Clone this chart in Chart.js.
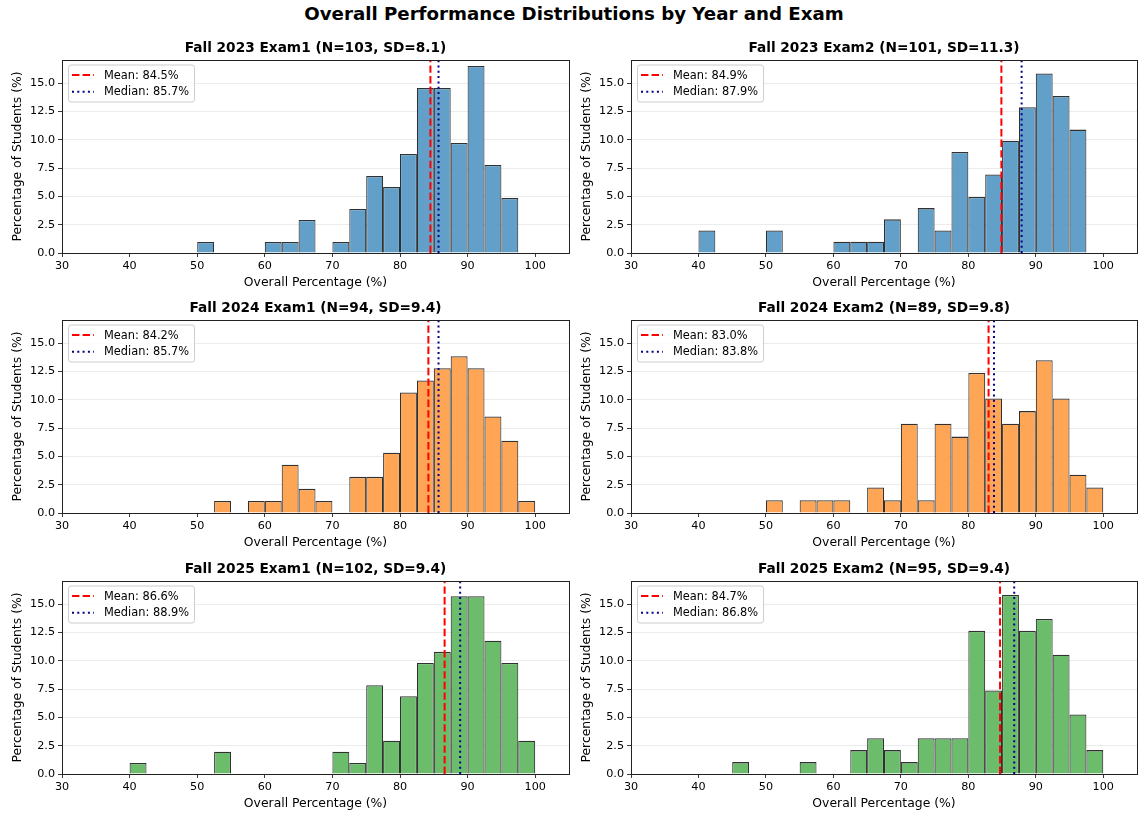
<!DOCTYPE html>
<html>
<head>
<meta charset="utf-8">
<script src="https://cdn.jsdelivr.net/npm/chart.js@4.4.0/dist/chart.umd.min.js"></script>
<style>
html,body{margin:0;padding:0;background:#fff;}
#wrap{position:relative;width:1139px;height:814px;overflow:hidden;background:#fff;}
#sup{position:absolute;left:0;top:4.7px;width:1148px;text-align:center;font-family:'DejaVu Sans';font-weight:bold;font-size:18.2px;line-height:18px;color:#000;white-space:nowrap;}
canvas{position:absolute;}
</style>
</head>
<body>
<div id="wrap">
  <div id="sup">Overall Performance Distributions by Year and Exam</div>
  <canvas id="c0" width="575" height="264" style="left:0px;top:28px"></canvas>
  <canvas id="c1" width="564" height="264" style="left:575px;top:28px"></canvas>
  <canvas id="c2" width="575" height="264" style="left:0px;top:288px"></canvas>
  <canvas id="c3" width="564" height="264" style="left:575px;top:288px"></canvas>
  <canvas id="c4" width="575" height="264" style="left:0px;top:549px"></canvas>
  <canvas id="c5" width="564" height="264" style="left:575px;top:549px"></canvas>
</div>
<script>
// ---------- DATA ----------
// Histogram bin centres (bins 2.5 points wide, from 40 to 100)
const binCenters = [41.25, 43.75, 46.25, 48.75, 51.25, 53.75, 56.25, 58.75, 61.25, 63.75, 66.25, 68.75,
                    71.25, 73.75, 76.25, 78.75, 81.25, 83.75, 86.25, 88.75, 91.25, 93.75, 96.25, 98.75];

// Percentage of students per bin
const fall2023Exam1 = [0, 0, 0, 0, 0.97, 0, 0, 0, 0.97, 0.97, 2.91, 0,
                       0.97, 3.88, 6.80, 5.83, 8.74, 14.56, 14.56, 9.71, 16.50, 7.77, 4.85, 0];
const fall2023Exam2 = [1.98, 0, 0, 0, 1.98, 0, 0, 0, 0.99, 0.99, 0.99, 2.97,
                       0, 3.96, 1.98, 8.91, 4.95, 6.93, 9.90, 12.87, 15.84, 13.86, 10.89, 0];
const fall2024Exam1 = [0, 0, 0, 0, 0, 1.06, 0, 1.06, 1.06, 4.26, 2.13, 1.06,
                       0, 3.19, 3.19, 5.32, 10.64, 11.70, 12.77, 13.83, 12.77, 8.51, 6.38, 1.06];
const fall2024Exam2 = [0, 0, 0, 0, 1.12, 0, 1.12, 1.12, 1.12, 0, 2.25, 1.12,
                       7.87, 1.12, 7.87, 6.74, 12.36, 10.11, 7.87, 8.99, 13.48, 10.11, 3.37, 2.25];
const fall2025Exam1 = [0.98, 0, 0, 0, 0, 1.96, 0, 0, 0, 0, 0, 0,
                       1.96, 0.98, 7.84, 2.94, 6.86, 9.80, 10.78, 15.69, 15.69, 11.76, 9.80, 2.94];
const fall2025Exam2 = [0, 0, 1.05, 0, 0, 0, 1.05, 0, 0, 2.11, 3.16, 2.11,
                       1.05, 3.16, 3.16, 3.16, 12.63, 7.37, 15.79, 12.63, 13.68, 10.53, 5.26, 2.11];

const panelNames = ['Fall 2023 Exam1', 'Fall 2023 Exam2', 'Fall 2024 Exam1', 'Fall 2024 Exam2', 'Fall 2025 Exam1', 'Fall 2025 Exam2'];
const nValues   = [103, 101, 94, 89, 102, 95];
const sdValues  = [8.1, 11.3, 9.4, 9.8, 9.4, 9.4];
const meanValues   = [84.5, 84.9, 84.2, 83.0, 86.6, 84.7];
const medianValues = [85.7, 87.9, 85.7, 83.8, 88.9, 86.8];
const xTickValues = [30, 40, 50, 60, 70, 80, 90, 100];
const yTickValues = [0, 2.5, 5, 7.5, 10, 12.5, 15];

// ---------- STYLE ----------
const seriesList = [fall2023Exam1, fall2023Exam2, fall2024Exam1, fall2024Exam2, fall2025Exam1, fall2025Exam2];
const faceColors = ['rgb(98,160,202)', 'rgb(98,160,202)', 'rgb(255,165,86)', 'rgb(255,165,86)', 'rgb(107,188,107)', 'rgb(107,188,107)'];
const X_MIN = 30, X_MAX = 105, Y_MIN = 0, Y_MAX = 17.03;
const TICK_FONT = 11.2, LABEL_FONT = 12.4, TITLE_FONT = 13.7, LEGEND_FONT = 11.4;

Chart.defaults.font.family = "'DejaVu Sans'";
Chart.defaults.font.size = TICK_FONT;
Chart.defaults.color = '#000';

const framePlugin = {
  id: 'frame',
  afterDatasetsDraw(chart) {
    const a = chart.chartArea, ctx = chart.ctx;
    ctx.save();
    ctx.strokeStyle = '#222';
    ctx.lineWidth = 1;
    const l = Math.round(a.left) + 0.5, t = Math.round(a.top) + 0.5;
    const r = Math.round(a.right) + 0.5, b = Math.round(a.bottom) + 0.5;
    ctx.strokeRect(l, t, r - l, b - t);
    ctx.restore();
  }
};

const boxLegendPlugin = {
  id: 'boxLegend',
  afterDraw(chart) {
    const ctx = chart.ctx, a = chart.chartArea;
    const items = chart.data.datasets.filter(d => d.type === 'line');
    ctx.save();
    ctx.font = LEGEND_FONT + "px 'DejaVu Sans'";
    const tw = Math.max(...items.map(d => ctx.measureText(d.label).width));
    const x = Math.round(a.left) + 6, y = Math.round(a.top) + 4.5;
    const w = 36 + tw + 5, h = 37;
    ctx.beginPath();
    ctx.roundRect(x + 0.5, y + 0.5, w, h, 2.5);
    ctx.fillStyle = 'rgba(255,255,255,0.8)';
    ctx.fill();
    ctx.strokeStyle = '#cccccc';
    ctx.lineWidth = 1;
    ctx.stroke();
    items.forEach((d, i) => {
      const cy = y + 10.5 + i * 16.7;
      ctx.beginPath();
      ctx.setLineDash(d.borderDash);
      ctx.strokeStyle = d.borderColor;
      ctx.lineWidth = 2;
      ctx.moveTo(x + 4, cy);
      ctx.lineTo(x + 26, cy);
      ctx.stroke();
      ctx.setLineDash([]);
      ctx.fillStyle = '#000';
      ctx.textBaseline = 'middle';
      ctx.textAlign = 'left';
      ctx.fillText(d.label, x + 36, cy + 0.7);
    });
    ctx.restore();
  }
};

function keepTicks(values) {
  return (axis) => {
    axis.ticks = values.map(v => ({ value: v }));
  };
}

function makeChart(idx) {
  const isLeft = idx % 2 === 0;
  const values = seriesList[idx];
  const mean = meanValues[idx], median = medianValues[idx];
  const canvas = document.getElementById('c' + idx);
  new Chart(canvas, {
    type: 'bar',
    data: {
      datasets: [
        {
          type: 'line',
          label: 'Mean: ' + mean.toFixed(1) + '%',
          data: [{ x: mean, y: Y_MIN }, { x: mean, y: Y_MAX }],
          borderColor: '#ff0000',
          borderWidth: 2,
          borderDash: [7.4, 3.2],
          pointRadius: 0,
          fill: false,
          order: 1
        },
        {
          type: 'line',
          label: 'Median: ' + median.toFixed(1) + '%',
          data: [{ x: median, y: Y_MIN }, { x: median, y: Y_MAX }],
          borderColor: '#00008b',
          borderWidth: 2,
          borderDash: [2, 3.3],
          pointRadius: 0,
          fill: false,
          order: 0
        },
        {
          type: 'bar',
          label: panelNames[idx],
          data: binCenters.map((c, i) => ({ x: c, y: values[i] })),
          backgroundColor: faceColors[idx],
          borderColor: 'rgba(20,20,20,0.88)',
          borderWidth: { top: 1.3, left: 1.1, right: 1.1, bottom: 0 },
          borderSkipped: 'start',
          barPercentage: 1,
          categoryPercentage: 1,
          inflateAmount: 0,
          order: 2
        }
      ]
    },
    options: {
      responsive: false,
      devicePixelRatio: 1,
      animation: false,
      events: [],
      layout: { padding: { left: 0, right: isLeft ? 6 : 2, top: 0, bottom: 0 } },
      plugins: {
        legend: { display: false },
        tooltip: { enabled: false },
        title: {
          display: true,
          fullSize: false,
          text: panelNames[idx] + ' (N=' + nValues[idx] + ', SD=' + sdValues[idx].toFixed(1) + ')',
          font: { size: TITLE_FONT, weight: 'bold', family: "'DejaVu Sans'" },
          color: '#000',
          padding: { top: 12.7, bottom: 2.86 }
        }
      },
      scales: {
        x: {
          type: 'linear',
          min: X_MIN,
          max: X_MAX,
          offset: false,
          afterBuildTicks: keepTicks(xTickValues),
          afterFit: (s) => { s.height = 39; },
          ticks: {
            autoSkip: false,
            maxRotation: 0,
            padding: 2.8,
            color: '#000',
            font: { size: TICK_FONT },
            callback: (v) => String(v)
          },
          grid: { offset: false, drawOnChartArea: false, drawTicks: true, tickLength: 4, tickColor: '#222', tickWidth: 0.9 },
          border: { display: false },
          title: {
            display: true,
            text: 'Overall Percentage (%)',
            font: { size: LABEL_FONT },
            color: '#000',
            padding: { top: 0, bottom: 2.26 }
          }
        },
        y: {
          type: 'linear',
          min: Y_MIN,
          max: Y_MAX,
          afterBuildTicks: keepTicks(yTickValues),
          afterFit: (s) => { s.width = isLeft ? 62 : 56; },
          ticks: {
            padding: 3,
            color: '#000',
            font: { size: TICK_FONT },
            callback: (v) => Number(v).toFixed(1)
          },
          grid: { color: 'rgba(176,176,176,0.3)', lineWidth: 0.8, drawTicks: true, tickLength: 4, tickColor: '#222', tickWidth: 0.9 },
          border: { display: false },
          title: {
            display: true,
            text: 'Percentage of Students (%)',
            font: { size: LABEL_FONT },
            color: '#000',
            padding: { top: isLeft ? 10.56 : 4.56, bottom: 0 }
          }
        }
      }
    },
    plugins: [framePlugin, boxLegendPlugin]
  });
}

for (let i = 0; i < 6; i++) makeChart(i);
</script>
</body>
</html>
